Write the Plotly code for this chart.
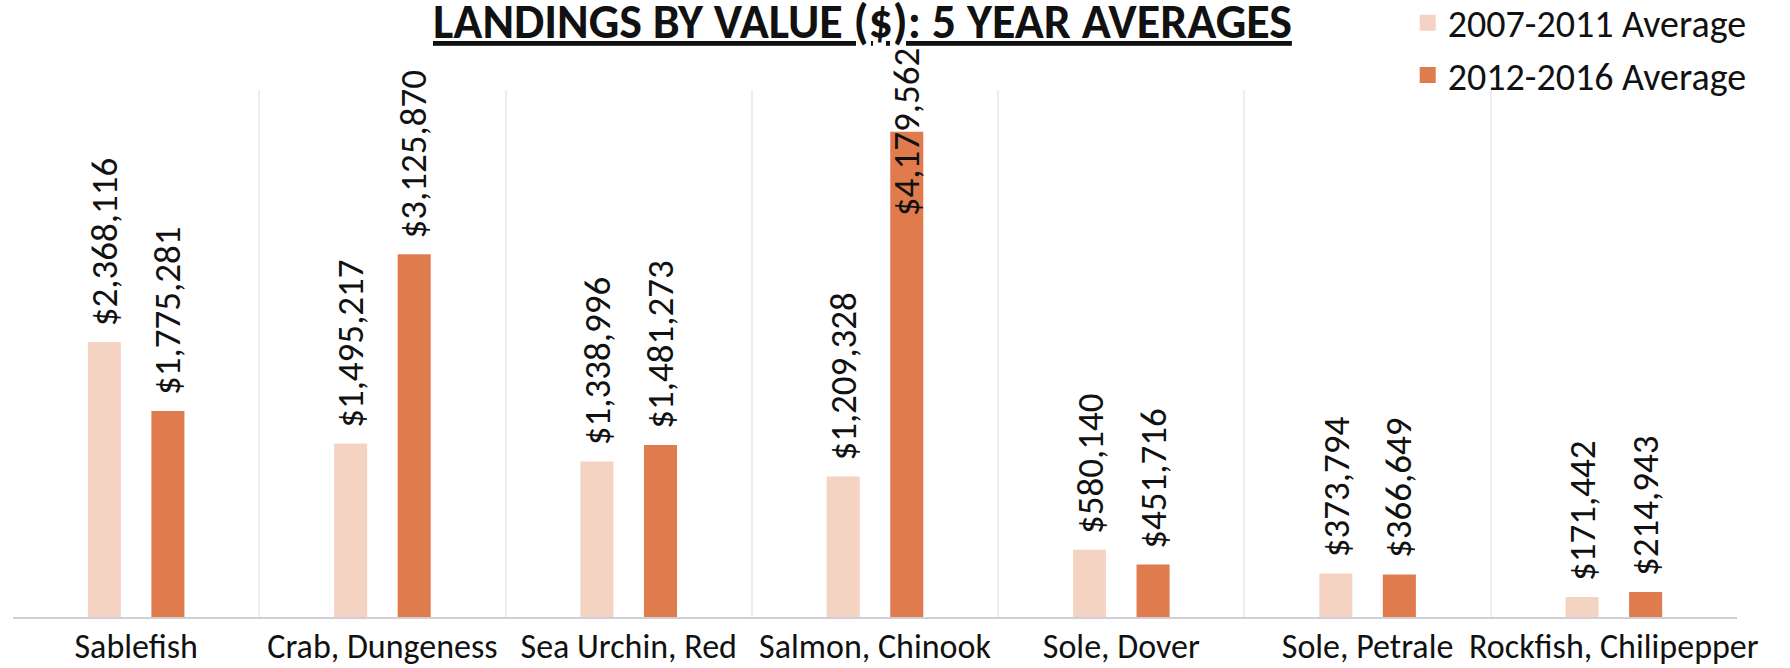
import plotly.graph_objects as go

categories = ["Sablefish", "Crab, Dungeness", "Sea Urchin, Red", "Salmon, Chinook",
              "Sole, Dover", "Sole, Petrale", "Rockfish, Chilipepper"]
avg_2007_2011 = [2368116, 1495217, 1338996, 1209328, 580140, 373794, 171442]
avg_2012_2016 = [1775281, 3125870, 1481273, 4179562, 451716, 366649, 214943]
series_names = ["2007-2011 Average", "2012-2016 Average"]
series_colors = ["#F4D3C2", "#E07B4E"]

FONT = "Carlito, Lato, sans-serif"
Y_MAX = 4540000

fig = go.Figure()
for name, vals, col in zip(series_names, [avg_2007_2011, avg_2012_2016], series_colors):
    fig.add_trace(go.Bar(x=categories, y=vals, name=name, marker_color=col,
                         marker_line_width=0, showlegend=False))
    # legend entry with a larger square swatch
    fig.add_trace(go.Scatter(x=[None], y=[None], mode="markers", name=name,
                             marker=dict(symbol="square", size=16, color=col),
                             showlegend=True))

# value labels
offsets = [-31.5, 31.5]
overall_max = max(avg_2007_2011 + avg_2012_2016)
for vals, off in zip([avg_2007_2011, avg_2012_2016], offsets):
    for c, v in zip(categories, vals):
        is_max = v == overall_max
        fig.add_annotation(x=c, y=v, xshift=off, yshift=0 if is_max else 14,
                           text=f"${v:,}", textangle=-90, showarrow=False,
                           xanchor="center", yanchor="middle" if is_max else "bottom",
                           font=dict(family=FONT, size=37, color="#111"))

fig.add_annotation(xref="paper", yref="paper", x=0.493, y=1.07, yanchor="bottom",
                   text="<b><u>LANDINGS BY VALUE ($): 5 YEAR AVERAGES</u></b>",
                   showarrow=False, font=dict(family=FONT, size=48, color="#111"))

fig.update_layout(
    width=1790, height=668,
    margin=dict(l=13, r=53, t=90, b=51, autoexpand=False),
    plot_bgcolor="white", paper_bgcolor="white",
    barmode="group", bargap=0.484, bargroupgap=0.48,
    showlegend=True,
    legend=dict(x=0.809, xanchor="left", y=1.187, yanchor="top",
                font=dict(family=FONT, size=38, color="#111"),
                tracegroupgap=4, bgcolor="rgba(0,0,0,0)", itemsizing="trace"),
    xaxis=dict(showline=True, linecolor="#cfcfd4", linewidth=1.5, automargin=False,
               tickson="boundaries", showgrid=True, gridcolor="#eeeeee", gridwidth=1.5,
               tickangle=0, ticks="", ticklabelstandoff=-2,
               tickfont=dict(family=FONT, size=34, color="#111")),
    yaxis=dict(range=[0, Y_MAX], visible=False, showgrid=False, automargin=False),
)

fig.write_html("out.html", config={"displayModeBar": False},
               post_script="document.body.style.margin='0';")
